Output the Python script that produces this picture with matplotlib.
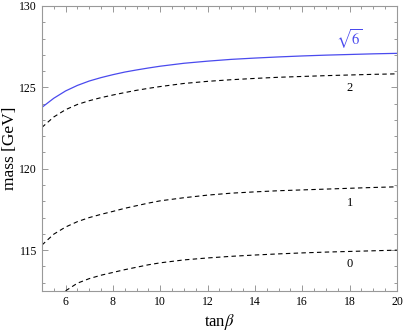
import matplotlib
matplotlib.use("Agg")
import matplotlib.pyplot as plt
from matplotlib.ticker import MultipleLocator

plt.rcParams['font.family'] = ['Liberation Serif', 'DejaVu Serif']
plt.rcParams['mathtext.fontset'] = 'stix'

# data
x_sqrt6 = [5, 5.5, 6, 6.5, 7, 7.5, 8, 8.5, 9, 9.5, 10, 11, 12, 13, 14, 15, 16, 17, 18, 19, 20]
y_sqrt6 = [123.77, 124.33, 124.78, 125.12, 125.39, 125.6, 125.78, 125.94, 126.07, 126.19,
           126.3, 126.48, 126.61, 126.72, 126.8, 126.87, 126.93, 126.98, 127.02, 127.06, 127.09]
x_two = [5, 5.5, 6, 6.5, 7, 7.5, 8, 8.5, 9, 9.5, 10, 11, 12, 13, 14, 15, 16, 17, 18, 19, 20]
y_two = [122.54, 123.18, 123.63, 123.95, 124.18, 124.37, 124.53, 124.68, 124.82, 124.94,
         125.05, 125.24, 125.37, 125.47, 125.55, 125.62, 125.67, 125.72, 125.76, 125.8, 125.83]
x_one = [5, 5.5, 6, 6.5, 7, 7.5, 8, 8.5, 9, 9.5, 10, 11, 12, 13, 14, 15, 16, 17, 18, 19, 20]
y_one = [115.31, 115.98, 116.42, 116.75, 117.0, 117.2, 117.38, 117.57, 117.73, 117.89,
         118.03, 118.22, 118.38, 118.5, 118.58, 118.65, 118.7, 118.75, 118.8, 118.85, 118.89]
x_zero = [6, 6.5, 7, 7.5, 8, 8.5, 9, 9.5, 10, 11, 12, 13, 14, 15, 16, 17, 18, 19, 20]
y_zero = [112.5, 112.97, 113.25, 113.46, 113.63, 113.8, 113.95, 114.1, 114.22, 114.4,
          114.52, 114.62, 114.7, 114.77, 114.83, 114.88, 114.92, 114.96, 115.0]

labels = [r'$\sqrt{6}$', '2', '1', '0']
label_x = [18, 18, 18, 18]
label_y = [127.95, 124.96, 117.9, 114.14]
label_colors = ['#4a4aee', 'black', 'black', 'black']
label_sizes = [10.5, 9, 9, 9]

fig = plt.figure(figsize=(4.03, 3.32), dpi=100)
ax = fig.add_axes([0.104, 0.124, 0.881, 0.858])

blue = '#4a4aee'
ax.plot(x_sqrt6, y_sqrt6, color=blue, lw=0.9)
for xs, ys in [(x_two, y_two), (x_one, y_one), (x_zero, y_zero)]:
    ax.plot(xs, ys, color='black', lw=0.8, dashes=(4, 3))

for t, lx, ly, c, fs in zip(labels, label_x, label_y, label_colors, label_sizes):
    ax.text(lx, ly, t, color=c, fontsize=fs, ha='center', va='center')

ax.set_xlim(5, 20)
ax.set_ylim(112.5, 130)
ax.xaxis.set_major_locator(MultipleLocator(2))
ax.xaxis.set_minor_locator(MultipleLocator(0.5))
ax.yaxis.set_major_locator(MultipleLocator(5))
ax.yaxis.set_minor_locator(MultipleLocator(1))
ax.tick_params(which='both', direction='in', top=True, right=True,
               color='#888888', labelsize=8.5, width=0.6)
ax.tick_params(which='major', length=4)
ax.tick_params(which='minor', length=2)
for s in ax.spines.values():
    s.set_color('#999999')
    s.set_linewidth(0.8)

ax.set_xlabel(r'tan$\beta$', fontsize=12, labelpad=3)
ax.set_ylabel('mass [GeV]', fontsize=12.5, labelpad=1)

fig.savefig('out.png', dpi=100)
